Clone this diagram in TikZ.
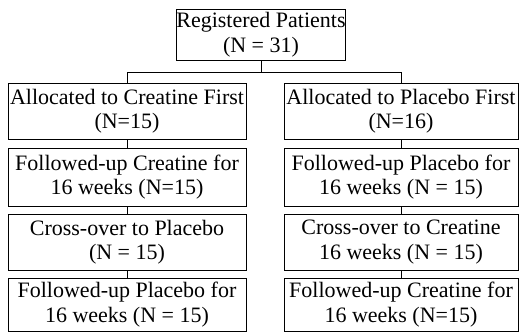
\documentclass[tikz,border=0pt]{standalone}
\usepackage{fontspec}
\setmainfont{Liberation Serif}
\begin{document}
\begin{tikzpicture}[x=1pt,y=-1pt,
  box/.style={draw=black,line width=0.7pt,rectangle,inner sep=0pt,align=center,
    font=\fontsize{22}{24.5}\selectfont},
  link/.style={draw=black,line width=0.7pt}]
\useasboundingbox (0,0) rectangle (519,332);
\node[box,minimum width=166pt,minimum height=51pt] (top) at (261,34.5) {Registered Patients\\(N = 31)};
\node[box,minimum width=238pt,minimum height=56pt] (l1) at (127,111) {Allocated to Creatine First\\(N=15)};
\node[box,minimum width=234pt,minimum height=56pt] (r1) at (401,111) {Allocated to Placebo First\\(N=16)};
\node[box,minimum width=238pt,minimum height=58pt] (l2) at (127,177) {Followed-up Creatine for\\16 weeks (N=15)};
\node[box,minimum width=234pt,minimum height=58pt] (r2) at (401,177) {Followed-up Placebo for\\16 weeks (N = 15)};
\node[box,minimum width=238pt,minimum height=56pt] (l3) at (127,242) {Cross-over to Placebo\\(N = 15)};
\node[box,minimum width=234pt,minimum height=56pt] (r3) at (401,242) {Cross-over to Creatine\\16 weeks (N = 15)};
\node[box,minimum width=238pt,minimum height=53pt] (l4) at (127,304.5) {Followed-up Placebo for\\16 weeks (N = 15)};
\node[box,minimum width=234pt,minimum height=53pt] (r4) at (401,304.5) {Followed-up Creatine for\\16 weeks (N=15)};
\draw[link] (top.south) -- ++(0,12) coordinate (hub);
\draw[link] (l1.north) |- (hub) -| (r1.north);
\draw[link] (l1) -- (l2);
\draw[link] (l2) -- (l3);
\draw[link] (l3) -- (l4);
\draw[link] (r1) -- (r2);
\draw[link] (r2) -- (r3);
\draw[link] (r3) -- (r4);
\end{tikzpicture}
\end{document}
